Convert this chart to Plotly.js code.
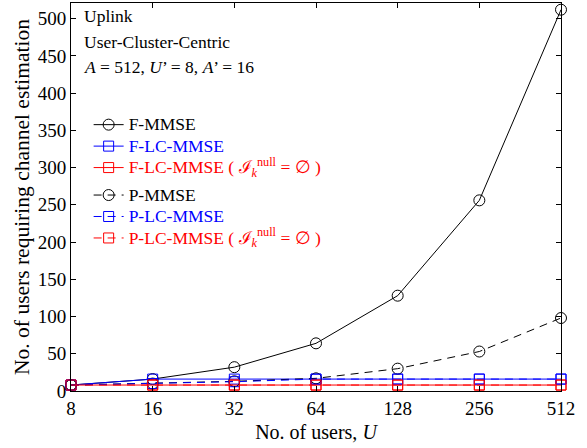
<!DOCTYPE html>
<html>
<head>
<meta charset="utf-8">
<script src="https://cdn.plot.ly/plotly-3.0.1.min.js"></script>
<style>html,body{margin:0;padding:0;background:#fff;}#chart{width:587px;height:448px;}</style>
</head>
<body>
<div id="chart"></div>
<script>
var users = [8, 16, 32, 64, 128, 256, 512];
var userTickLabels = ["8", "16", "32", "64", "128", "256", "512"];
var fMMSE = [8, 16, 32, 64, 128, 256, 512];
var fLCMMSE = [8, 16, 16, 16, 16, 16, 16];
var fLCMMSEnull = [8, 8, 8, 8, 8, 8, 8];
var pMMSE = [8, 10, 13, 17, 30, 53, 98];
var pLCMMSE = [8, 10, 12.5, 16, 16, 16, 16];
var pLCMMSEnull = [8, 8, 8, 8, 8, 8, 8];

var nullTxt = ' ( ℐ<sub><i>k</i></sub><sup>null</sup> = ∅ )';
function lbl(txt, color) {
  return '<span style="font-size:17.5px;color:' + color + '">' + txt + '</span>';
}
function tr(y, name, color, symbol, dash, group) {
  return {
    x: users, y: y, name: name, type: 'scatter', mode: 'lines+markers',
    line: {color: color, width: 1, dash: dash},
    marker: {symbol: symbol, size: symbol === 'circle-open' ? 11 : 10, color: color, line: {color: color, width: 1}},
    cliponaxis: false, legendgroup: group
  };
}
var data = [
  tr(fMMSE, lbl('F-MMSE', 'black'), 'black', 'circle-open', 'solid', 'F'),
  tr(fLCMMSE, lbl('F-LC-MMSE', 'blue'), 'blue', 'square-open', 'solid', 'F'),
  tr(fLCMMSEnull, lbl('F-LC-MMSE' + nullTxt, 'red'), 'red', 'square-open', 'solid', 'F'),
  tr(pMMSE, lbl('P-MMSE', 'black'), 'black', 'circle-open', '8px,6px', 'P'),
  tr(pLCMMSE, lbl('P-LC-MMSE', 'blue'), 'blue', 'square-open', '8px,6px', 'P'),
  tr(pLCMMSEnull, lbl('P-LC-MMSE' + nullTxt, 'red'), 'red', 'square-open', '8px,6px', 'P')
];

var eps = 1e-6;
var fam = 'Times New Roman, Liberation Serif, DejaVu Serif, serif';
function f(s) { return {family: fam, size: s, color: 'black'}; }
var layout = {
  width: 587, height: 448,
  margin: {l: 71, r: 26, t: 3, b: 57},
  paper_bgcolor: 'white', plot_bgcolor: 'white',
  font: f(17.5),
  showlegend: true,
  legend: {x: 0.036, y: 0.727, xanchor: 'left', yanchor: 'top', bgcolor: 'rgba(0,0,0,0)',
           traceorder: 'grouped', tracegroupgap: 6, font: f(14.2), itemwidth: 30},
  xaxis: {
    type: 'log', range: [Math.log10(8) - eps, Math.log10(512) + eps],
    tickvals: users, ticktext: userTickLabels,
    ticks: 'inside', ticklen: 5, tickcolor: 'black', showline: true, linecolor: 'black', linewidth: 1,
    mirror: 'ticks', showgrid: false, zeroline: false,
    tickfont: f(19),
    title: {text: 'No. of users, <i>U</i>', font: f(20), standoff: 7}
  },
  yaxis: {
    range: [0, 521], dtick: 50, tick0: 0,
    ticks: 'inside', ticklen: 5, tickcolor: 'black', showline: true, linecolor: 'black', linewidth: 1,
    mirror: 'ticks', showgrid: false, zeroline: false,
    tickfont: f(19),
    title: {text: 'No. of users requiring channel estimation', font: f(21.5), standoff: 2}
  },
  annotations: [
    {xref: 'paper', yref: 'paper', x: 0.022, y: 0.966, xanchor: 'left', yanchor: 'middle', showarrow: false, text: 'Uplink', font: f(17.5)},
    {xref: 'paper', yref: 'paper', x: 0.022, y: 0.9, xanchor: 'left', yanchor: 'middle', showarrow: false, text: 'User-Cluster-Centric', font: f(17.5)},
    {xref: 'paper', yref: 'paper', x: 0.022, y: 0.836, xanchor: 'left', yanchor: 'middle', showarrow: false, text: '<i>A</i> = 512, <i>U</i>\u2019 = 8, <i>A</i>\u2019 = 16', font: f(17.5)}
  ]
};
Plotly.newPlot('chart', data, layout, {displayModeBar: false, staticPlot: true});
</script>
</body>
</html>
